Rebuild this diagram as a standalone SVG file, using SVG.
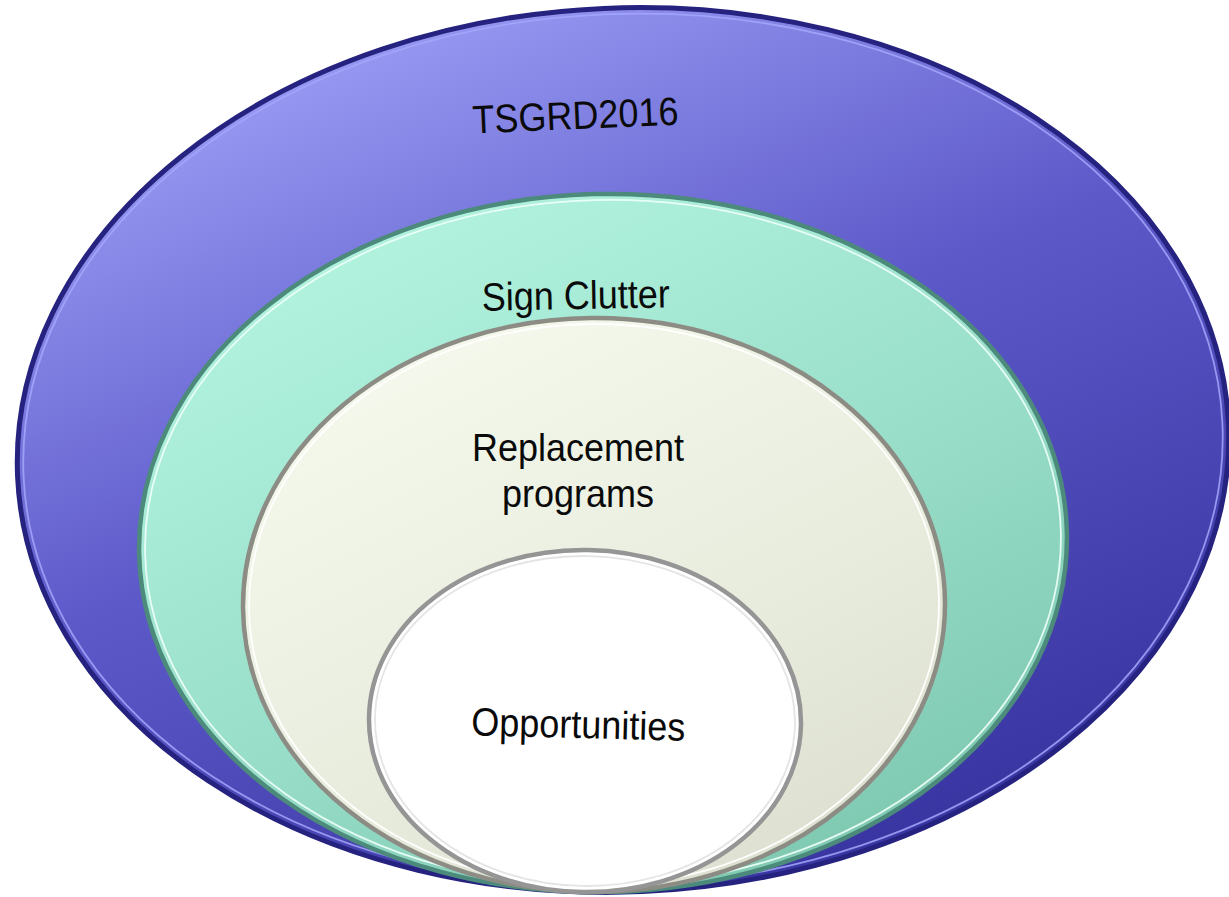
<svg xmlns="http://www.w3.org/2000/svg" width="1229" height="897" viewBox="0 0 1229 897">
<defs>
<linearGradient id="gBlue" x1="0.25" y1="0" x2="0.75" y2="1">
<stop offset="0" stop-color="#9c9ff6"/>
<stop offset="0.45" stop-color="#5d59c9"/>
<stop offset="1" stop-color="#35329e"/>
</linearGradient>
<linearGradient id="gGreen" x1="0.2" y1="0" x2="0.8" y2="1">
<stop offset="0" stop-color="#b4f5e0"/>
<stop offset="0.5" stop-color="#9be0cb"/>
<stop offset="1" stop-color="#7cc6ae"/>
</linearGradient>
<linearGradient id="gCream" x1="0.2" y1="0" x2="0.8" y2="1">
<stop offset="0" stop-color="#f6faee"/>
<stop offset="0.6" stop-color="#e8ecdd"/>
<stop offset="1" stop-color="#dcdfcf"/>
</linearGradient>
<style>
.lbl{font-family:"Liberation Sans",Arial,sans-serif;font-size:36px;fill:#0a0a0a;text-anchor:middle}
.hl{fill:none;stroke-width:1.8}
</style>
</defs>
<g id="tsgrd2016">
<ellipse cx="623" cy="450" rx="606" ry="442" transform="rotate(-2.5 623 450)" fill="url(#gBlue)" stroke="#25237f" stroke-width="5"/>
<ellipse cx="623" cy="450" rx="600" ry="436" transform="rotate(-2.5 623 450)" class="hl" stroke="#a4a6fa" stroke-opacity="0.85"/>
<text class="lbl" transform="translate(576 129) rotate(-2.5) scale(1 1.1)">TSGRD2016</text>
</g>
<g id="sign-clutter">
<ellipse cx="603" cy="543" rx="464" ry="349" transform="rotate(-1.5 603 543)" fill="url(#gGreen)" stroke="#4c8a7b" stroke-width="4.5"/>
<ellipse cx="603" cy="543" rx="458" ry="343" transform="rotate(-1.5 603 543)" class="hl" stroke="#eefff8" stroke-opacity="0.9"/>
<text class="lbl" transform="translate(576 309) rotate(-1) scale(1 1.1)">Sign Clutter</text>
</g>
<g id="replacement-programs">
<ellipse cx="594" cy="605" rx="351" ry="287" transform="rotate(-0.5 594 605)" fill="url(#gCream)" stroke="#8c8c85" stroke-width="4.5"/>
<ellipse cx="594" cy="605" rx="345" ry="281" transform="rotate(-0.5 594 605)" class="hl" stroke="#ffffff" stroke-opacity="0.95"/>
<text class="lbl" transform="translate(578 461) scale(1 1.1)">Replacement</text>
<text class="lbl" transform="translate(578 507) scale(1 1.1)">programs</text>
</g>
<g id="opportunities">
<ellipse cx="585" cy="721" rx="216" ry="171" transform="rotate(1 585 721)" fill="#ffffff" stroke="#959595" stroke-width="4.5"/>
<ellipse cx="585" cy="721" rx="210" ry="165" transform="rotate(1 585 721)" class="hl" stroke="#e4e4e4"/>
<text class="lbl" transform="translate(578 738) rotate(1.5) scale(1 1.1)">Opportunities</text>
</g>
<g id="connectors"/>
</svg>
